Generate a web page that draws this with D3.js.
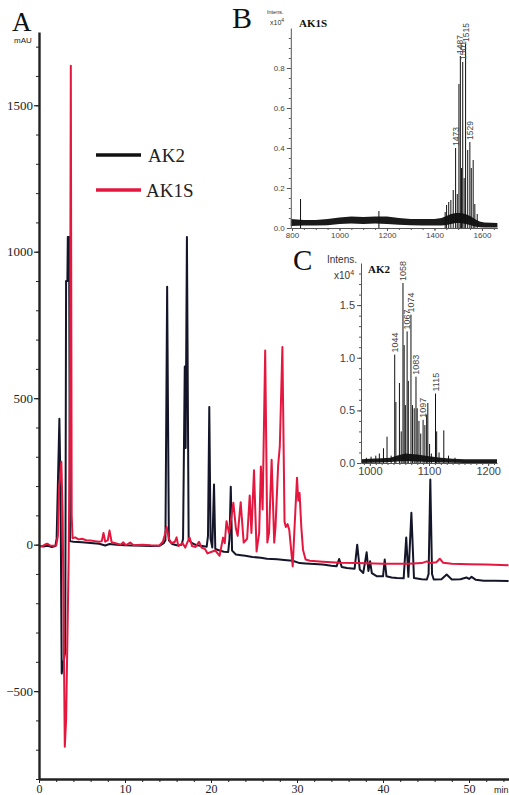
<!DOCTYPE html>
<html><head><meta charset="utf-8">
<script src="https://cdn.jsdelivr.net/npm/d3@7"></script>
<style>body{margin:0;background:#fff}svg{display:block}</style>
</head><body>
<svg id="c" width="509" height="795"></svg>
<script>
// ---------- Panel A: HPLC chromatogram ----------
const seriesNames = ["AK2", "AK1S"];
const ak2Time = [0,0.5,1,1.5,1.9,2.05,2.37,2.5,2.64,2.75,3.05,3.15,3.3,3.35,3.5,3.6,4,5,6,7,7.7,8.2,9,10,11,12,13,14,14.5,14.7,14.9,15.1,15.5,16,16.6,16.75,16.95,17.05,17.2,17.4,17.55,17.8,18.3,19,19.5,19.65,19.8,19.95,20.15,20.35,20.5,21,21.5,22,22.15,22.3,22.45,22.9,23.5,24,24.8,25.8,26.5,27.7,28.5,29.5,30.3,31,32,33,34,34.6,34.9,35.2,35.8,36.7,37,37.3,37.7,38.1,38.3,38.5,38.7,39.3,40,40.2,40.4,41,41.6,42.4,42.7,42.95,43.3,43.6,44.5,45.1,45.3,45.5,45.7,45.9,46.8,47.4,48,49,49.7,50,50.3,50.8,51.7,53,54.6];
const ak2Abs  = [-5,-6,-4,-8,-5,20,430,200,-440,-420,-365,900,900,1050,1050,12,10,8,6,3,-3,2,0,-2,-3,-4,-5,-4,5,15,880,15,2,-2,0,20,608,330,1050,20,12,5,-2,-5,-7,30,470,20,-10,205,-15,-20,-24,-25,20,198,-20,-34,-36,-38,-42,-45,-48,-50,-52,-55,-63,-64,-66,-68,-72,-74,-49,-76,-80,-82,0,-85,-97,-26,-90,-57,-97,-108,-108,-51,-108,-112,-114,-115,24,-110,109,-114,-118,-119,-100,222,-100,-119,-118,-102,-119,-118,-112,-117,-110,-120,-123,-123,-124];
const ak1sTime = [0,0.4,0.8,1,1.3,1.6,2,2.2,2.35,2.6,2.75,3,3.15,3.45,3.6,3.7,3.8,3.9,4.2,4.6,5,5.5,6,6.5,7,7.3,7.5,7.7,8,8.2,8.45,9,9.5,9.8,10.1,10.6,11,12,13,14,14.4,14.6,14.85,15.1,15.4,15.8,16,16.2,16.7,17,17.5,17.8,18.2,18.6,18.9,19.3,19.6,20,20.5,21,21.4,21.6,21.8,22.1,22.6,22.9,23.1,23.45,23.8,24.2,24.5,24.7,25,25.3,25.6,25.8,26,26.3,26.55,26.75,27.05,27.35,27.5,27.8,28,28.3,28.55,28.7,28.9,29.1,29.5,29.7,30,30.15,30.3,30.5,30.7,31,31.5,33,35,37,40,43,44.5,45.1,45.5,46.2,46.6,47,48,50,52,54.6];
const ak1sAbs  = [-6,-5,2,3,-3,-4,-3,30,200,283,100,-690,-600,-50,480,1635,100,22,25,18,20,15,14,12,10,12,40,10,15,48,8,4,0,8,-2,7,-2,0,-2,-3,10,30,60,20,5,10,25,-5,5,-10,25,-5,-8,10,-10,-15,-30,-25,-20,-38,24,5,80,40,143,54,30,145,7,20,168,40,254,-23,40,267,120,663,7,40,290,7,60,267,336,675,78,60,70,50,-74,50,228,150,176,60,-18,-51,-55,-58,-62,-63,-65,-65,-63,-57,-63,-60,-48,-62,-65,-67,-68,-70];
const mainXTicks = [0,10,20,30,40,50];
const mainYTicks = [-500,0,500,1000,1500];

// ---------- Panel B: MS of AK1S ----------
const bPeakMz  = [836,1166,1445,1451,1460,1469,1479,1489,1496,1503,1509,1514,1519,1525,1531,1540,1549,1555,1563,1570,1580];
const bPeakInt = [0.145,0.085,0.08,0.115,0.13,0.14,0.19,0.40,0.17,0.72,0.86,0.30,0.83,0.25,0.92,0.39,0.43,0.30,0.34,0.12,0.07];
const bLabelText = ["1473","1487","1501","1515","1529"];
const bLabelMz   = [1489,1509,1519,1531,1549];
const bLabelInt  = [0.40,0.86,0.83,0.92,0.43];
const bNoiseMz    = [795,850,900,950,1000,1050,1100,1150,1200,1250,1300,1350,1400,1430,1450,1470,1490,1510,1530,1550,1570,1590,1610,1665];
const bNoiseHigh  = [0.045,0.04,0.04,0.045,0.052,0.058,0.055,0.058,0.058,0.05,0.045,0.045,0.045,0.05,0.06,0.07,0.075,0.075,0.07,0.06,0.045,0.032,0.028,0.025];
const bNoiseLow   = [0.01,0.012,0.012,0.014,0.02,0.022,0.02,0.022,0.02,0.016,0.014,0.012,0.012,0.012,0.015,0.02,0.025,0.025,0.02,0.015,0.008,0.004,0.003,0.002];
const bXTicks = [800,1000,1200,1400,1600];
const bYTicks = [0,0.2,0.4,0.6,0.8];

// ---------- Panel C: MS of AK2 ----------
const cPeakMz  = [994,1002,1010,1016,1023,1029,1036,1042,1044,1050,1053,1056,1058,1060,1063,1065,1069.5,1072,1075,1078,1080,1083,1086,1090,1093,1096,1098,1101,1104,1111,1113,1117,1125,1133,1144];
const cPeakInt = [0.05,0.06,0.07,0.09,0.14,0.25,0.07,1.03,0.58,0.76,0.30,1.71,1.12,0.55,1.25,0.78,1.41,0.55,0.52,0.82,0.52,0.40,0.28,0.41,0.36,0.46,0.57,0.18,0.09,0.66,0.30,0.10,0.31,0.07,0.05];
const cLabelText = ["1044","1058","1067","1074","1083","1097","1115"];
const cLabelMz   = [1042,1056,1063,1069.5,1078,1090,1111];
const cLabelInt  = [1.03,1.71,1.25,1.41,0.82,0.41,0.66];
const cNoiseMz   = [985,1000,1020,1035,1045,1060,1080,1100,1120,1140,1160,1180,1200,1215];
const cNoiseHigh = [0.035,0.04,0.045,0.05,0.07,0.09,0.08,0.065,0.05,0.04,0.035,0.035,0.035,0.035];
const cNoiseLow  = [0.0,0.003,0.005,0.01,0.015,0.02,0.015,0.01,0.005,0.003,0,0,0,0];
const cXTicks = [1000,1100,1200];
const cYTicks = [0,0.5,1.0,1.5];

const SERIF = "'Liberation Serif','DejaVu Serif',serif";
const SANS = "'Liberation Sans',Arial,sans-serif";
const colors = ["#15152a", "#e5173f"];

const svg = d3.select("#c");

// ===== Panel A =====
const x = d3.scaleLinear().domain([0, 54.65]).range([39, 509]);
const y = d3.scaleLinear().domain([-800, 1750]).range([779, 32]);
const gA = svg.append("g");

const line = d3.line().x(d => x(d[0])).y(d => y(d[1]));
const ak2 = ak2Time.map((t, i) => [t, ak2Abs[i]]);
const ak1s = ak1sTime.map((t, i) => [t, ak1sAbs[i]]);
gA.append("path").datum(ak2).attr("d", line).attr("fill", "none")
  .attr("stroke", colors[0]).attr("stroke-width", 2).attr("stroke-linejoin", "round");
gA.append("path").datum(ak1s).attr("d", line).attr("fill", "none")
  .attr("stroke", colors[1]).attr("stroke-width", 2).attr("stroke-linejoin", "round");

// y axis
const yAx = gA.append("g").attr("transform", "translate(39,0)")
  .call(d3.axisLeft(y).tickValues(mainYTicks).tickSize(5).tickSizeOuter(0)
    .tickFormat(d => d < 0 ? "\u2212" + Math.abs(d) : String(d)));
yAx.select(".domain").attr("stroke", "#222").attr("stroke-width", 2.4);
yAx.selectAll(".tick line").attr("stroke", "#222").attr("stroke-width", 1.2);
yAx.selectAll("text").attr("font-family", SERIF).attr("font-size", 13).attr("fill", "#222").attr("x", -6);
gA.append("g").attr("transform", "translate(39,0)")
  .call(d3.axisLeft(y).tickValues(d3.range(-800, 1750, 100)).tickSize(3).tickFormat(""))
  .call(g => g.select(".domain").remove())
  .selectAll("line").attr("stroke", "#222");

// x axis
const xAx = gA.append("g").attr("transform", "translate(0,779)")
  .call(d3.axisBottom(x).tickValues(mainXTicks).tickSize(4).tickSizeOuter(0).tickFormat(d => String(d)));
xAx.select(".domain").attr("stroke", "#222").attr("stroke-width", 2.4);
xAx.selectAll(".tick line").attr("stroke", "#222");
xAx.selectAll("text").attr("font-family", SERIF).attr("font-size", 12).attr("fill", "#222")
  .attr("y", 5).attr("dy", "0.71em");
gA.append("g").attr("transform", "translate(0,779)")
  .call(d3.axisBottom(x).tickValues(d3.range(0, 55, 2)).tickSize(3).tickFormat(""))
  .call(g => g.select(".domain").remove())
  .selectAll("line").attr("stroke", "#222");

gA.append("text").attr("x", 494).attr("y", 793).text("min")
  .attr("font-family", SANS).attr("font-size", 9).attr("fill", "#222");
gA.append("text").attr("x", 14).attr("y", 43).text("mAU")
  .attr("font-family", SANS).attr("font-size", 8).attr("fill", "#222");
gA.append("text").attr("x", 12).attr("y", 31).text("A")
  .attr("font-family", SERIF).attr("font-size", 27).attr("fill", "#111");

// legend
const leg = gA.append("g");
seriesNames.forEach((n, i) => {
  const ly = 155 + i * 35;
  leg.append("line").attr("x1", 96).attr("x2", 141).attr("y1", ly).attr("y2", ly)
    .attr("stroke", i === 0 ? "#111" : colors[1]).attr("stroke-width", 3.5);
  leg.append("text").attr("x", i === 0 ? 148 : 146).attr("y", ly + 7).text(n)
    .attr("font-family", SERIF).attr("font-size", 19).attr("fill", "#222");
});

// ===== Spectrum inset helper =====
function spectrum(opt) {
  const g = svg.append("g");
  const xs = d3.scaleLinear().domain(opt.xDomain).range(opt.xRange);
  const ys = d3.scaleLinear().domain(opt.yDomain).range(opt.yRange);
  const band = opt.noiseMz.map((m, i) => [m, opt.noiseLow[i], opt.noiseHigh[i]]);
  g.append("path").datum(band)
    .attr("d", d3.area().x(d => xs(d[0])).y0(d => ys(d[1])).y1(d => ys(d[2])))
    .attr("fill", "#1a1a1a");
  g.selectAll("line.pk").data(opt.peakMz.map((m, i) => [m, opt.peakInt[i]])).join("line")
    .attr("class", "pk")
    .attr("x1", d => xs(d[0])).attr("x2", d => xs(d[0]))
    .attr("y1", ys(0)).attr("y2", d => ys(d[1]))
    .attr("stroke", "#111").attr("stroke-width", 1);
  opt.labelText.forEach((t, i) => {
    const px = xs(opt.labelMz[i]), py = ys(opt.labelInt[i]);
    g.append("text").attr("transform", `translate(${px + opt.labelFs * 0.36},${py - 2}) rotate(-90)`)
      .text(t).attr("font-family", SANS).attr("font-size", opt.labelFs).attr("fill", "#444");
  });
  const ya = g.append("g").attr("transform", `translate(${opt.xRange[0]},0)`)
    .call(d3.axisLeft(ys).tickValues(opt.yTicks).tickSize(4).tickSizeOuter(0).tickFormat(d3.format(".1f")));
  ya.select(".domain").attr("stroke", "#555");
  ya.selectAll(".tick line").attr("stroke", "#555");
  ya.selectAll("text").attr("font-family", SANS).attr("font-size", opt.tickFs).attr("fill", "#444").attr("x", -6);
  g.append("g").attr("transform", `translate(${opt.xRange[0]},0)`)
    .call(d3.axisLeft(ys).tickValues(opt.yMinor).tickSize(2).tickFormat(""))
    .call(s => s.select(".domain").remove()).selectAll("line").attr("stroke", "#555");
  const xa = g.append("g").attr("transform", `translate(0,${opt.yRange[0]})`)
    .call(d3.axisBottom(xs).tickValues(opt.xTicks).tickSize(3).tickSizeOuter(0).tickFormat(d => String(d)));
  xa.select(".domain").attr("stroke", "#555");
  xa.selectAll(".tick line").attr("stroke", "#555");
  xa.selectAll("text").attr("font-family", SANS).attr("font-size", opt.tickFs).attr("fill", "#444").attr("y", 4);
  g.append("g").attr("transform", `translate(0,${opt.yRange[0]})`)
    .call(d3.axisBottom(xs).tickValues(opt.xMinor).tickSize(2).tickFormat(""))
    .call(s => s.select(".domain").remove()).selectAll("line").attr("stroke", "#555");
  return g;
}

// Panel B
const gB = spectrum({
  xDomain: [795, 1665], xRange: [290.8, 497.4], yDomain: [0, 1.0], yRange: [228, 28],
  peakMz: bPeakMz, peakInt: bPeakInt, labelText: bLabelText, labelMz: bLabelMz, labelInt: bLabelInt,
  noiseMz: bNoiseMz, noiseLow: bNoiseLow, noiseHigh: bNoiseHigh,
  xTicks: bXTicks, yTicks: bYTicks, xMinor: d3.range(800, 1665, 50), yMinor: d3.range(0, 1.0, 0.05),
  tickFs: 8, labelFs: 8.5
});
gB.append("text").attr("x", 232).attr("y", 28).text("B").attr("font-family", SERIF).attr("font-size", 30).attr("fill", "#111");
gB.append("text").attr("x", 267).attr("y", 14).text("Intens.").attr("font-family", SANS).attr("font-size", 5.5).attr("fill", "#333");
const bx = gB.append("text").attr("x", 270).attr("y", 25).attr("font-family", SANS).attr("font-size", 7).attr("fill", "#333");
bx.append("tspan").text("x10");
bx.append("tspan").text("4").attr("dy", -3).attr("font-size", 5);
gB.append("text").attr("x", 299).attr("y", 27).text("AK1S").attr("font-family", SERIF).attr("font-weight", "bold").attr("font-size", 11).attr("fill", "#111");

// Panel C
const gC = spectrum({
  xDomain: [985, 1215], xRange: [361, 497], yDomain: [0, 1.9], yRange: [463, 263],
  peakMz: cPeakMz, peakInt: cPeakInt, labelText: cLabelText, labelMz: cLabelMz, labelInt: cLabelInt,
  noiseMz: cNoiseMz, noiseLow: cNoiseLow, noiseHigh: cNoiseHigh,
  xTicks: cXTicks, yTicks: cYTicks, xMinor: d3.range(990, 1215, 10), yMinor: d3.range(0, 1.9, 0.1),
  tickFs: 11, labelFs: 9
});
gC.append("text").attr("x", 293).attr("y", 270).text("C").attr("font-family", SERIF).attr("font-size", 29).attr("fill", "#111");
gC.append("text").attr("x", 327).attr("y", 263).text("Intens.").attr("font-family", SANS).attr("font-size", 10).attr("fill", "#333");
const cx = gC.append("text").attr("x", 334).attr("y", 279).attr("font-family", SANS).attr("font-size", 10).attr("fill", "#333");
cx.append("tspan").text("x10");
cx.append("tspan").text("4").attr("dy", -4).attr("font-size", 7);
gC.append("text").attr("x", 368).attr("y", 273).text("AK2").attr("font-family", SERIF).attr("font-weight", "bold").attr("font-size", 11).attr("fill", "#111");
</script>
</body></html>
